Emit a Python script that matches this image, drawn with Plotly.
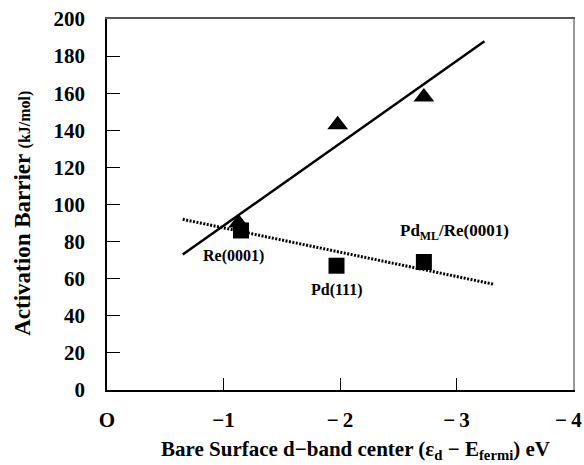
import plotly.graph_objects as go

# Data
tri_x = [-1.13, -1.98, -2.72]
tri_y = [90, 143, 158]
sq_x = [-1.15, -1.97, -2.72]
sq_y = [86, 67, 69]
solid_fit_x = [-0.65, -3.24]
solid_fit_y = [73, 188]
dot_fit_x = [-0.65, -3.32]
dot_fit_y = [92, 57]
x_ticks = [0, -1, -2, -3, -4]
x_ticklabels = ["O", "\u22121", "\u2212\u20092", "\u2212\u20093", "\u2212\u20094"]
y_ticks = [0, 20, 40, 60, 80, 100, 120, 140, 160, 180, 200]
labels = ["Re(0001)", "Pd(111)", "Pd<sub>ML</sub>/Re(0001)"]
label_x = [-1.09, -1.97, -2.98]
label_y = [72, 54, 85]
label_size = [16, 16, 17]

FONT = "Liberation Serif"

fig = go.Figure()
fig.add_trace(go.Scatter(x=solid_fit_x, y=solid_fit_y, mode="lines",
                         line=dict(color="black", width=2.5), showlegend=False))
fig.add_trace(go.Scatter(x=dot_fit_x, y=dot_fit_y, mode="lines",
                         line=dict(color="black", width=3, dash="2px,1.5px"), showlegend=False))
fig.add_trace(go.Scatter(x=tri_x, y=tri_y, mode="markers",
                         marker=dict(symbol="triangle-up", size=18, color="black"), showlegend=False))
fig.add_trace(go.Scatter(x=sq_x, y=sq_y, mode="markers",
                         marker=dict(symbol="square", size=16, color="black"), showlegend=False))
# invisible trace to carry the top/right frame axes
fig.add_trace(go.Scatter(x=[-2], y=[100], mode="markers", xaxis="x2", yaxis="y2",
                         marker=dict(opacity=0), hoverinfo="skip", showlegend=False))

for t, lx, ly, s in zip(labels, label_x, label_y, label_size):
    fig.add_annotation(x=lx, y=ly, text="<b>" + t + "</b>", showarrow=False,
                       font=dict(family=FONT, size=s, color="black"))

# last x tick label drawn as annotation, nudged to stay inside the window
fig.add_annotation(x=x_ticks[-1], xref="x", yref="paper", y=-0.081,
                   xanchor="right", yanchor="middle", xshift=11,
                   text="<b>" + x_ticklabels[-1] + "</b>", showarrow=False,
                   font=dict(family=FONT, size=21, color="black"))
axis_ticktext = x_ticklabels[:-1] + [""]

# Axis titles
fig.add_annotation(xref="paper", yref="paper", x=-0.183, y=0.477,
                   xanchor="center", yanchor="middle",
                   text="<b>Activation Barrier <span style='font-size:16px'>(kJ/mol)</span></b>",
                   textangle=-90, showarrow=False,
                   font=dict(family=FONT, size=23, color="black"))
fig.add_annotation(xref="paper", yref="paper", x=0.534, y=-0.162,
                   xanchor="center", yanchor="middle",
                   text="<b>Bare Surface d\u2212band center (\u03b5<sub>d</sub> \u2212 E<sub>fermi</sub>) eV</b>",
                   showarrow=False,
                   font=dict(family=FONT, size=21, color="black"))

fig.update_layout(
    xaxis=dict(range=[0, -4], tickvals=x_ticks, ticktext=axis_ticktext,
               showgrid=False, zeroline=False, showline=True, linecolor="black", linewidth=1.5,
               ticks="inside", ticklen=12, tickcolor="black", tickwidth=1,
               ticklabelstandoff=10, automargin=False, ticklabeloverflow="allow",
               tickfont=dict(family=FONT, size=21, color="black", weight="bold")),
    yaxis=dict(range=[0, 200], tickvals=y_ticks,
               showgrid=False, zeroline=False, showline=True, linecolor="black", linewidth=1.5,
               ticks="inside", ticklen=13, tickcolor="black", tickwidth=1,
               ticklabelstandoff=16, automargin=False, ticklabeloverflow="allow",
               tickfont=dict(family=FONT, size=21, color="black", weight="bold")),
    xaxis2=dict(range=[0, -4], overlaying="x", side="top", showline=True,
                linecolor="#555555", linewidth=1.5, showticklabels=False, ticks="",
                showgrid=False, zeroline=False, automargin=False),
    yaxis2=dict(range=[0, 200], overlaying="y", side="right", showline=True,
                linecolor="#999999", linewidth=2, showticklabels=False, ticks="",
                showgrid=False, zeroline=False, automargin=False),
    width=584, height=465,
    margin=dict(l=107, r=11, t=19, b=75, autoexpand=False),
    plot_bgcolor="white", paper_bgcolor="white",
)

# remove the default page margin so the figure fills the 584x465 window exactly
fig.write_html("out.html", config={"displayModeBar": False},
               post_script="document.body.style.margin='0';document.body.style.overflow='hidden';")
